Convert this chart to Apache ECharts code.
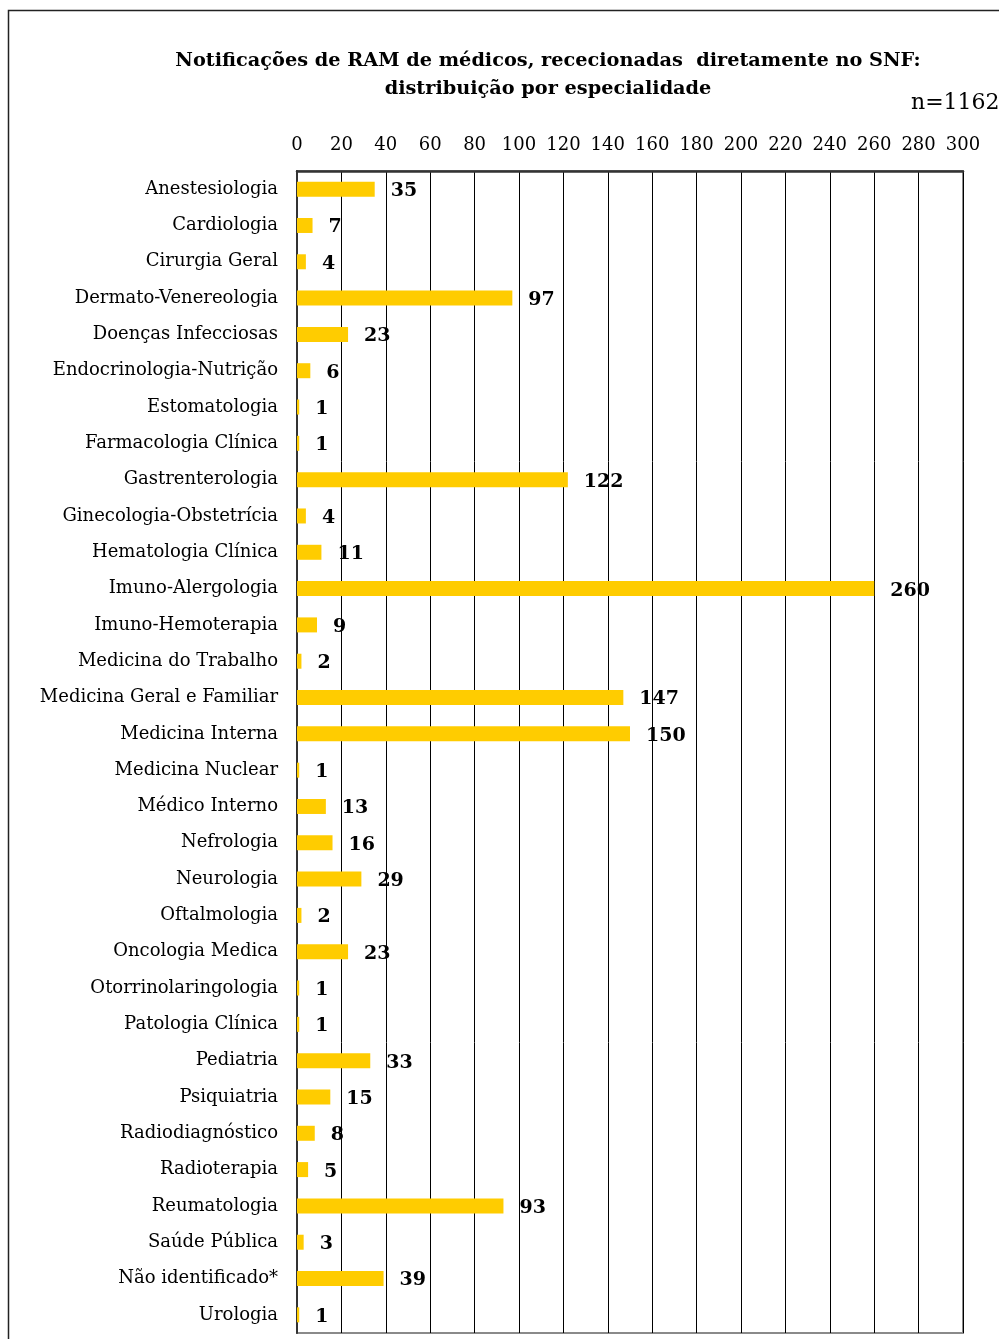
<!DOCTYPE html>
<html><head><meta charset="utf-8">
<script src="https://cdn.jsdelivr.net/npm/echarts@6/dist/echarts.min.js"></script>
<style>html,body{margin:0;padding:0;background:#fff}#c{width:999px;height:1339px}</style>
</head><body><div id="c"></div>
<script>
const categories = ["Anestesiologia","Cardiologia","Cirurgia Geral","Dermato-Venereologia","Doenças Infecciosas","Endocrinologia-Nutrição","Estomatologia","Farmacologia Clínica","Gastrenterologia","Ginecologia-Obstetrícia","Hematologia Clínica","Imuno-Alergologia","Imuno-Hemoterapia","Medicina do Trabalho","Medicina Geral e Familiar","Medicina Interna","Medicina Nuclear","Médico Interno","Nefrologia","Neurologia","Oftalmologia","Oncologia Medica","Otorrinolaringologia","Patologia Clínica","Pediatria","Psiquiatria","Radiodiagnóstico","Radioterapia","Reumatologia","Saúde Pública","Não identificado*","Urologia"];
const values = [35,7,4,97,23,6,1,1,122,4,11,260,9,2,147,150,1,13,16,29,2,23,1,1,33,15,8,5,93,3,39,1];
const titleLines = ["Notificações de RAM de médicos, rececionadas  diretamente no SNF:","distribuição por especialidade"];
const nLabel = "n=1162";
const FONT = "DejaVu Serif";
const chart = echarts.init(document.getElementById('c'), null, {renderer:'canvas'});
chart.setOption({
  animation:false,
  backgroundColor:'#fff',
  title:[{text:titleLines.join('\n'),left:543,top:42,textAlign:'center',
    textStyle:{fontFamily:FONT,fontWeight:'bold',fontSize:19.3,lineHeight:28,color:'#000'}},
    {text:nLabel,left:906,top:87,textStyle:{fontFamily:FONT,fontWeight:'normal',fontSize:22,color:'#000'}}],
  graphic:[{type:'rect',shape:{x:8.5,y:10.5,width:1000,height:1340},style:{fill:'none',stroke:'#222',lineWidth:1.5},silent:true}],
  grid:{left:297,right:36,top:171,bottom:6,show:true,borderColor:'#8a8a8a',borderWidth:2,backgroundColor:'transparent'},
  xAxis:{type:'value',position:'top',min:0,max:300,interval:20,
    axisLine:{show:true,lineStyle:{color:'#333',width:2.5}},axisTick:{show:false},
    axisLabel:{fontFamily:FONT,fontSize:18,color:'#000',margin:17},
    splitLine:{show:true,lineStyle:{color:'#000',width:1}}},
  yAxis:{type:'category',data:categories,inverse:true,
    axisLine:{show:true,lineStyle:{color:'#333',width:2}},axisTick:{show:false},
    axisLabel:{fontFamily:FONT,fontSize:18,color:'#000',margin:19,padding:[6,0,0,0]}},
  series:[{type:'bar',data:values,barWidth:15,itemStyle:{color:'#FFCC00'},
    label:{show:true,position:'right',distance:16,offset:[0,2],fontFamily:FONT,fontWeight:'bold',fontSize:19,color:'#000'}}]
});
</script></body></html>
